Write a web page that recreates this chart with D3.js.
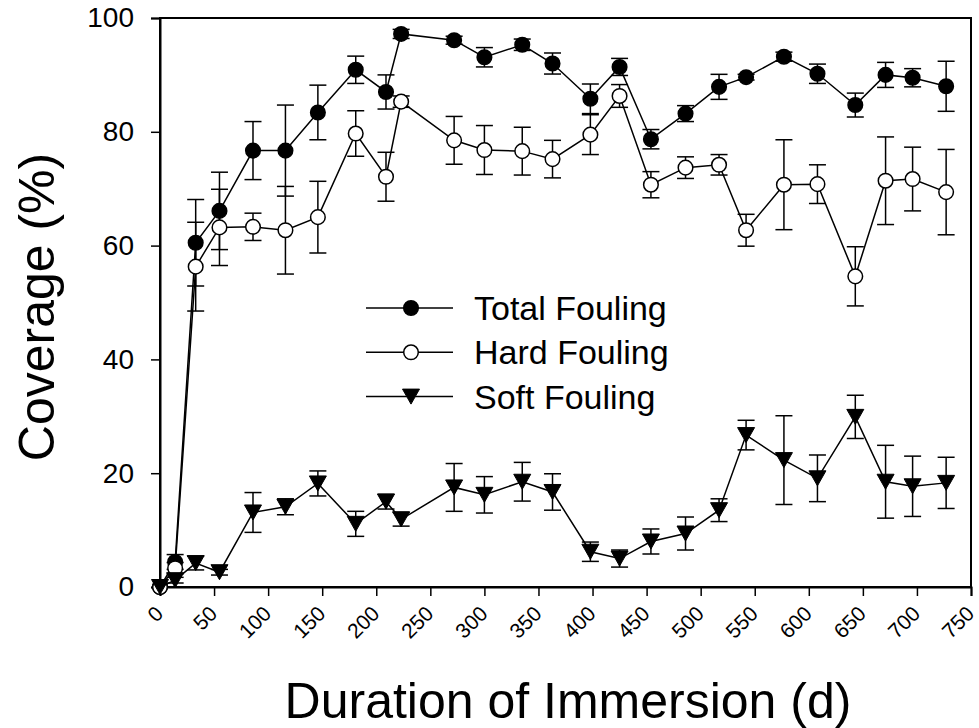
<!DOCTYPE html>
<html>
<head>
<meta charset="utf-8">
<script src="https://cdn.jsdelivr.net/npm/d3@7"></script>
<style>
	body { margin: 0; background: #fff; }
	svg { display: block; font-family: Arial, "Liberation Sans", sans-serif; }
</style>
</head>
<body>
<script>
(function(){
	// Data
	let days = [0, 14, 33, 55, 86, 116, 146, 181, 209, 223, 272, 300, 335, 363, 398, 425, 454, 486, 517, 542, 577, 608, 643, 671, 696, 727];
	let total = [0, 4.4, 60.5, 66.1, 76.7, 76.7, 83.4, 90.9, 87.0, 97.2, 96.1, 93.1, 95.3, 92.0, 85.8, 91.4, 78.7, 83.2, 87.9, 89.6, 93.2, 90.2, 84.7, 90.0, 89.5, 88.0];
	let totalErr = [0, 1.3, 7.6, 6.8, 5.1, 8.0, 4.8, 2.4, 3.0, 0.8, 0.7, 1.7, 1.0, 1.85, 2.6, 1.5, 1.7, 1.4, 2.2, 0.5, 0.8, 1.7, 2.1, 2.2, 1.6, 4.4];
	let hard = [0, 3.3, 56.3, 63.2, 63.3, 62.7, 65.0, 79.7, 72.1, 85.3, 78.5, 76.8, 76.6, 75.2, 79.5, 86.3, 70.7, 73.7, 74.2, 62.7, 70.7, 70.8, 54.6, 71.4, 71.7, 69.4];
	let hardErr = [0, 1.0, 7.8, 6.7, 2.4, 7.7, 6.3, 4.0, 4.3, 1.0, 4.2, 4.3, 4.2, 3.3, 3.5, 2.0, 2.3, 1.9, 1.8, 2.8, 7.9, 3.4, 5.2, 7.7, 5.6, 7.5];
	let soft = [0, 1.2, 4.2, 2.6, 13.1, 14.1, 18.2, 11.1, 15.0, 11.9, 17.5, 16.2, 18.5, 16.7, 6.2, 5.0, 8.0, 9.4, 13.5, 26.7, 22.3, 19.1, 29.9, 18.5, 17.7, 18.3];
	let softErr = [0, 0.5, 1.2, 0.5, 3.5, 1.4, 2.2, 2.2, 1.3, 1.2, 4.2, 3.2, 3.4, 3.2, 1.7, 1.5, 2.2, 2.9, 2.0, 2.6, 7.8, 4.1, 3.8, 6.4, 5.3, 4.5];

	let seriesNames = ['Total Fouling', 'Hard Fouling', 'Soft Fouling'];
	let xTicks = d3.range(0, 751, 50);
	let yTicks = [0, 20, 40, 60, 80, 100];

	let series = [
		{name: seriesNames[0], values: total, err: totalErr, symbol: 'circle', fill: '#000'},
		{name: seriesNames[1], values: hard, err: hardErr, symbol: 'circle', fill: '#fff'},
		{name: seriesNames[2], values: soft, err: softErr, symbol: 'triangle', fill: '#000'}
	];

	let width = 979, height = 728,
		plot = {left: 160, right: 971, top: 18, bottom: 587};

	let x = d3.scaleLinear().domain([0, 750]).range([plot.left, plot.right]);
	let y = d3.scaleLinear().domain([0, 100]).range([plot.bottom, plot.top]);

	let svg = d3.select('body').append('svg')
		.attr('width', width)
		.attr('height', height);

	// Frame
	svg.append('rect')
		.attr('x', plot.left)
		.attr('y', plot.top)
		.attr('width', plot.right - plot.left)
		.attr('height', plot.bottom - plot.top)
		.attr('fill', 'none')
		.attr('stroke', '#000')
		.attr('stroke-width', 2);

	// Y axis
	let yAxis = svg.append('g')
		.attr('transform', 'translate(' + plot.left + ',0)')
		.call(d3.axisLeft(y).tickValues(yTicks).tickSize(9).tickPadding(17));
	yAxis.select('.domain').attr('stroke-width', 2);
	yAxis.selectAll('.tick line').attr('stroke-width', 1.5);
	yAxis.selectAll('.tick text')
		.attr('font-size', 28)
		.attr('font-family', 'Arial, "Liberation Sans", sans-serif')
		.attr('fill', '#000');

	// X axis, labels turned 45 degrees
	let xAxis = svg.append('g')
		.attr('transform', 'translate(0,' + plot.bottom + ')')
		.call(d3.axisBottom(x).tickValues(xTicks).tickSize(9));
	xAxis.select('.domain').attr('stroke-width', 2);
	xAxis.selectAll('.tick line').attr('stroke-width', 1.5);
	xAxis.selectAll('.tick text')
		.attr('font-size', 21)
		.attr('font-family', 'Arial, "Liberation Sans", sans-serif')
		.attr('fill', '#000')
		.attr('text-anchor', 'end')
		.attr('dy', null)
		.attr('y', null)
		.attr('transform', 'translate(4,28) rotate(-45)');

	// Axis titles
	svg.append('text')
		.attr('transform', 'translate(54,307) rotate(-90)')
		.attr('text-anchor', 'middle')
		.attr('font-size', 50)
		.text('Coverage (%)');
	svg.append('text')
		.attr('x', 568)
		.attr('y', 718)
		.attr('text-anchor', 'middle')
		.attr('font-size', 50)
		.text('Duration of Immersion (d)');

	let triangle = 'M-8.5,-7.5L8.5,-7.5L0,7.5Z';
	let capHalf = 8.5;

	function drawSymbol(g, s){
		if(s.symbol === 'circle'){
			g.append('circle')
				.attr('r', 7.3)
				.attr('fill', s.fill)
				.attr('stroke', '#000')
				.attr('stroke-width', 1.5);
		} else {
			g.append('path')
				.attr('d', triangle)
				.attr('fill', s.fill)
				.attr('stroke', '#000')
				.attr('stroke-width', 1);
		}
	}

	// Series: error bars, line, then symbols
	series.forEach(function(s){
		let pts = days.map(function(d, i){
			return {day: d, v: s.values[i], e: s.err[i]};
		});
		let g = svg.append('g');

		let bars = g.selectAll('.err')
			.data(pts.filter(p => p.e > 0)).enter()
			.append('g')
			.attr('stroke', '#000')
			.attr('stroke-width', 1.5);
		bars.append('line')
			.attr('x1', p => x(p.day)).attr('x2', p => x(p.day))
			.attr('y1', p => y(p.v + p.e)).attr('y2', p => y(p.v - p.e));
		bars.append('line')
			.attr('x1', p => x(p.day) - capHalf).attr('x2', p => x(p.day) + capHalf)
			.attr('y1', p => y(p.v + p.e)).attr('y2', p => y(p.v + p.e));
		bars.append('line')
			.attr('x1', p => x(p.day) - capHalf).attr('x2', p => x(p.day) + capHalf)
			.attr('y1', p => y(p.v - p.e)).attr('y2', p => y(p.v - p.e));

		g.append('path')
			.datum(pts)
			.attr('fill', 'none')
			.attr('stroke', '#000')
			.attr('stroke-width', 1.5)
			.attr('d', d3.line().x(p => x(p.day)).y(p => y(p.v)));

		g.selectAll('.sym')
			.data(pts).enter()
			.append('g')
			.attr('transform', p => 'translate(' + x(p.day) + ',' + y(p.v) + ')')
			.each(function(){ drawSymbol(d3.select(this), s); });
	});

	// Legend
	let legend = svg.append('g').attr('transform', 'translate(366,308)');
	series.forEach(function(s, i){
		let row = legend.append('g').attr('transform', 'translate(0,' + (i * 44.3) + ')');
		row.append('line')
			.attr('x1', 0).attr('x2', 87)
			.attr('stroke', '#000')
			.attr('stroke-width', 1.5);
		let sym = row.append('g').attr('transform', 'translate(45,0)');
		drawSymbol(sym, s);
		row.append('text')
			.attr('x', 108)
			.attr('dy', '0.35em')
			.attr('font-size', 34)
			.text(s.name);
	});
})();
</script>
</body>
</html>
